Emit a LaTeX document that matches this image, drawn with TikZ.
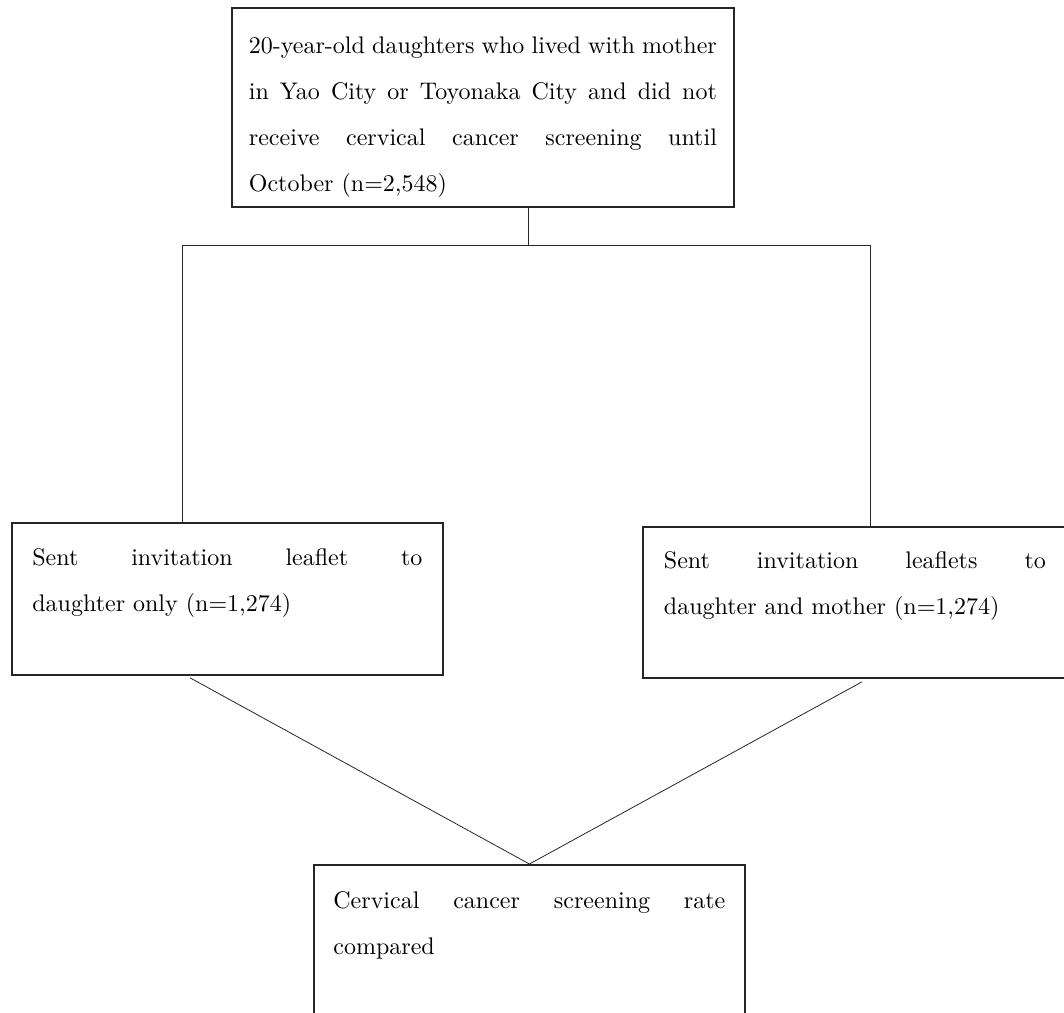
\documentclass[tikz,border=0pt]{standalone}
\usepackage{fontspec}
\setmainfont{lmroman10-regular.otf}
\usepackage{tikz}
\usetikzlibrary{calc}
\newcommand{\boxtext}[4]{\parbox[c][#2][t]{#1}{\vspace*{\dimexpr #3-\ht\strutbox\relax}\strut #4}}
\tikzset{
  flowbox/.style={draw=black!85, line width=1.8pt, inner ysep=0pt, anchor=north west,
    font=\fontsize{24}{46}\selectfont},
  link/.style={draw=black!85, line width=0.8pt}
}
\begin{document}
\begin{tikzpicture}[x=1pt,y=-1pt]
\useasboundingbox (0,0) rectangle (1064,1012);
\node[flowbox, inner xsep=17pt] (top) at (231,7)
  {\boxtext{468pt}{199pt}{46pt}{20-year-old daughters who lived with mother\linebreak in Yao City or Toyonaka City and did not\linebreak receive cervical cancer screening until\linebreak October (n=2,548)}};
\node[flowbox, inner xsep=20.5pt] (left) at (11,522)
  {\boxtext{390pt}{152pt}{43pt}{Sent invitation leaflet to\linebreak daughter only (n=1,274)}};
\node[flowbox, inner xsep=21pt] (right) at (642,526)
  {\boxtext{382pt}{151pt}{42pt}{Sent invitation leaflets to\linebreak daughter and mother (n=1,274)}};
\node[flowbox, inner xsep=19.5pt] (bottom) at (313,864)
  {\boxtext{392pt}{220pt}{44pt}{Cervical cancer screening rate\linebreak compared}};
\coordinate (split) at (528,245);
\coordinate (jl) at (182,245);
\coordinate (jr) at (870,245);
\coordinate (dl) at (190,0);
\coordinate (dr) at (862,0);
\draw[link] (top.south -| split) -- (split);
\draw[link] (jl) -- (jr);
\draw[link] (jl) -- (jl |- left.north);
\draw[link] (jr) -- (jr |- right.north);
\draw[link] ($(dl |- left.south)+(0,2)$) -- (bottom.north);
\draw[link] ($(dr |- right.south)+(0,3)$) -- (bottom.north);
\end{tikzpicture}
\end{document}
